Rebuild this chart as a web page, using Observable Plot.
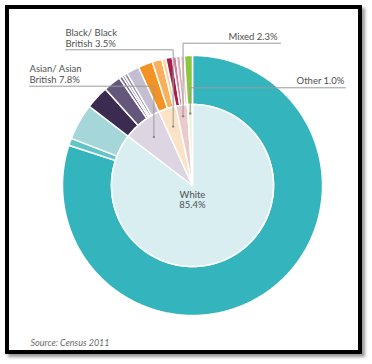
<!DOCTYPE html>
<html>
<head>
<meta charset="utf-8">
<script src="https://cdn.jsdelivr.net/npm/d3@7"></script>
<script src="https://cdn.jsdelivr.net/npm/@observablehq/plot@0.6"></script>
<style>
  html, body { margin: 0; padding: 0; background: #fff; }
  body { width: 372px; height: 364px; position: relative; overflow: hidden; font-family: Lato, "Open Sans", sans-serif; }
  #chart { position: absolute; left: 0; top: 0; }
  #frame { position: absolute; left: 5px; top: 5px; width: 349px; height: 341px; border: 4px solid #000; box-shadow: 3px 3px 3px #9a9a9a; pointer-events: none; }
</style>
</head>
<body>
<div id="chart"></div>
<div id="frame"></div>
<script>
// ---- Data ----
const groups = ["White", "Asian/ Asian British", "Black/ Black British", "Mixed", "Other"];
const groupValues = [85.4, 7.8, 3.5, 2.3, 1.0];

const subGroup = ["White", "White", "White",
  "Asian/ Asian British", "Asian/ Asian British", "Asian/ Asian British", "Asian/ Asian British", "Asian/ Asian British", "Asian/ Asian British",
  "Black/ Black British", "Black/ Black British", "Black/ Black British",
  "Mixed", "Mixed", "Mixed", "Mixed",
  "Other"];
const subNames = ["White British", "Irish", "Other White",
  "Indian", "Pakistani", "Bangladeshi", "Chinese", "Gypsy", "Other Asian",
  "African", "Caribbean", "Other Black",
  "White & Black Caribbean", "White & Black African", "White & Asian", "Other Mixed",
  "Other ethnic group"];
const subValues = [80.0, 0.9, 4.5,
  2.9, 2.2, 0.4, 0.3, 0.4, 1.6,
  1.8, 1.2, 0.5,
  0.8, 0.5, 0.5, 0.5,
  1.0];

const labelTexts = ["White\n85.4%", "Asian/ Asian\nBritish 7.8%", "Black/ Black\nBritish 3.5%", "Mixed 2.3%", "Other 1.0%"];
const caption = "Source: Census 2011";

// ---- Styles ----
const groupColors = ["#d8eef0", "#ddd5e2", "#fde3c6", "#ecc9cb", "#eef5dd"];
const subColors = ["#34b4bc", "#62c4c7", "#a5d7da",
  "#3c2b51", "#65567b", "#74668a", "#857899", "#968ba8", "#c5bdd0",
  "#f39324", "#f8b05c", "#fcd29d",
  "#a51d4c", "#cf7c93", "#e3adb8", "#efcacd",
  "#8cc63f"];

// ---- Geometry ----
const cx = 192, cy = 185, rPie = 81, rOuter = 130;
const W = 372, H = 364;

function arcPoints(id, a0, a1, r0, r1) {
  const pts = [];
  const n = Math.max(2, Math.ceil((a1 - a0) / 0.5));
  for (let i = 0; i <= n; i++) {
    const a = (a0 + (a1 - a0) * i / n) * Math.PI / 180;
    pts.push({id, x: cx + r1 * Math.sin(a), y: cy - r1 * Math.cos(a)});
  }
  if (r0 === 0) pts.push({id, x: cx, y: cy});
  else for (let i = n; i >= 0; i--) {
    const a = (a0 + (a1 - a0) * i / n) * Math.PI / 180;
    pts.push({id, x: cx + r0 * Math.sin(a), y: cy - r0 * Math.cos(a)});
  }
  return pts;
}

const innerPts = [];
const mids = {};
let acc = 0;
groups.forEach((g, i) => {
  const a0 = acc * 3.6, a1 = (acc + groupValues[i]) * 3.6;
  mids[g] = (a0 + a1) / 2;
  innerPts.push(...arcPoints("g:" + g, a0, a1, 0, rPie));
  acc += groupValues[i];
});
const outerPts = [];
acc = 0;
subNames.forEach((s, i) => {
  const a0 = acc * 3.6, a1 = (acc + subValues[i]) * 3.6;
  outerPts.push(...arcPoints("s:" + s, a0, a1, rPie, rOuter));
  acc += subValues[i];
});

// ---- Label layout (positions kept apart from the data) ----
const layout = [
  {tx: cx, ty: cy + 14, anchor: "middle"},
  {tx: 29, ty: 73.5, anchor: "start", lineY: 85.7, lineEnd: 29, r: 62},
  {tx: 65, ty: 37.5, anchor: "start", lineY: 49.3, lineEnd: 65, r: 62},
  {tx: 228, ty: 36, anchor: "start", lineY: 42.7, lineEnd: 280, r: 70},
  {tx: 344, ty: 80, anchor: "end", lineY: 87.3, lineEnd: 345, r: 72}
];
const leaderPts = [], dots = [], labels = [];
groups.forEach((g, i) => {
  const L = layout[i];
  labels.push({x: L.tx, y: L.ty, text: labelTexts[i], anchor: L.anchor});
  if (L.r == null) return;
  const a = mids[g] * Math.PI / 180;
  const vx = cx + L.r * Math.sin(a), vy = cy - L.r * Math.cos(a);
  leaderPts.push({id: g, x: L.lineEnd, y: L.lineY}, {id: g, x: vx, y: L.lineY}, {id: g, x: vx, y: vy});
  dots.push({x: vx, y: vy});
});

const keys = [...groups.map(g => "g:" + g), ...subNames.map(s => "s:" + s)];
const colors = [...groupColors, ...subColors];

const textOpts = {x: "x", y: "y", text: "text", fontSize: 9.5, lineHeight: 1.15, fill: "#505050"};

const chart = Plot.plot({
  width: W, height: H,
  margin: 0,
  x: {domain: [0, W], range: [0, W], axis: null},
  y: {domain: [0, H], range: [0, H], axis: null},
  color: {type: "ordinal", domain: keys, range: colors},
  style: {background: "transparent", fontFamily: "Lato, 'Open Sans', sans-serif"},
  marks: [
    Plot.line(outerPts, {x: "x", y: "y", z: "id", fill: "id", stroke: "white", strokeWidth: 1.5, curve: "linear-closed"}),
    Plot.line(innerPts, {x: "x", y: "y", z: "id", fill: "id", stroke: "white", strokeWidth: 1.5, curve: "linear-closed"}),
    Plot.line(leaderPts, {x: "x", y: "y", z: "id", stroke: "#9a9a9a", strokeWidth: 1}),
    Plot.dot(dots, {x: "x", y: "y", r: 1.2, fill: "#8a8a8a"}),
    Plot.text(labels.filter(d => d.anchor === "start"), {...textOpts, textAnchor: "start"}),
    Plot.text(labels.filter(d => d.anchor === "middle"), {...textOpts, textAnchor: "middle"}),
    Plot.text(labels.filter(d => d.anchor === "end"), {...textOpts, textAnchor: "end"}),
    Plot.text([caption], {x: 30, y: 343, text: d => d, textAnchor: "start", fontSize: 9, fontStyle: "italic", fill: "#6a6a6a"})
  ]
});
document.getElementById("chart").appendChild(chart);
</script>
</body>
</html>
